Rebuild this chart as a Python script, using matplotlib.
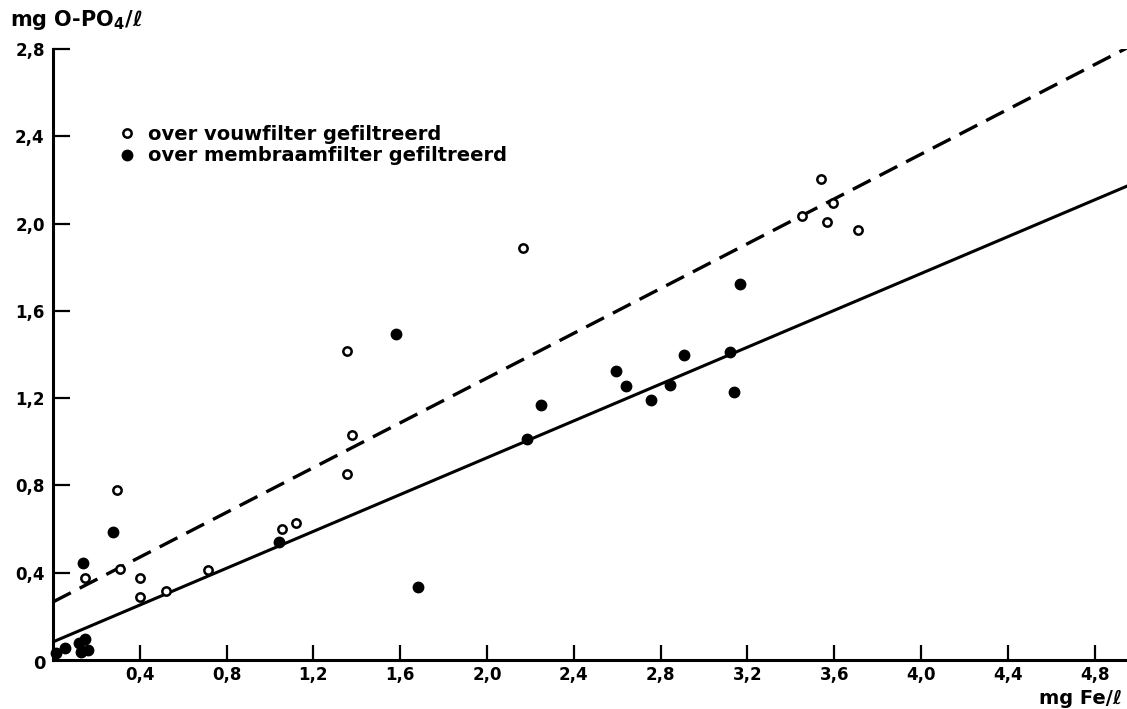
import matplotlib
matplotlib.use("Agg")
import numpy as np
import matplotlib.pyplot as plt

plt.rcParams["font.family"] = ["DejaVu Sans"]
plt.rcParams["font.weight"] = "bold"

# over vouwfilter gefiltreerd (open rondjes)
vouw_fe = [0.147, 0.31, 0.40, 0.40, 0.52, 0.714, 0.295, 1.055, 1.12,
           1.355, 1.38, 1.355, 2.166, 3.45, 3.54, 3.567, 3.595, 3.71]
vouw_po4 = [0.376, 0.417, 0.376, 0.29, 0.316, 0.413, 0.78, 0.60, 0.63,
            1.417, 1.03, 0.853, 1.89, 2.036, 2.206, 2.005, 2.096, 1.97]

# over membraamfilter gefiltreerd (dichte rondjes)
membr_fe = [0.014, 0.055, 0.12, 0.147, 0.129, 0.161, 0.138, 0.277, 1.04,
            1.58, 1.68, 2.184, 2.249, 2.594, 2.64, 2.756, 2.843, 2.91,
            3.12, 3.138, 3.166]
membr_po4 = [0.032, 0.055, 0.078, 0.096, 0.037, 0.046, 0.445, 0.587, 0.54,
             1.495, 0.335, 1.014, 1.17, 1.326, 1.257, 1.19, 1.26, 1.40,
             1.41, 1.23, 1.725]

# regressielijnen: (afsnijding, helling)
lijn_vouw = (0.266, 0.513)
lijn_membr = (0.083, 0.422)

x_ticks = [0.4, 0.8, 1.2, 1.6, 2.0, 2.4, 2.8, 3.2, 3.6, 4.0, 4.4, 4.8]
y_ticks = [0.4, 0.8, 1.2, 1.6, 2.0, 2.4, 2.8]


def komma(v):
    return ("%.1f" % v).replace(".", ",")


fig = plt.figure(figsize=(11.27, 7.09), dpi=100)
ax = fig.add_axes([53 / 1127, 49 / 709, 1074 / 1127, 611 / 709])

xmax = 1074 / 217
xl = np.array([0, xmax])
ax.plot(xl, lijn_vouw[0] + lijn_vouw[1] * xl, color="k", lw=2.4,
        dashes=(6, 3), solid_capstyle="butt")
ax.plot(xl, lijn_membr[0] + lijn_membr[1] * xl, color="k", lw=2.2)

ax.plot(vouw_fe, vouw_po4, "o", ms=6, mfc="white", mec="k", mew=1.8,
        ls="none", label="over vouwfilter gefiltreerd", clip_on=False)
ax.plot(membr_fe, membr_po4, "o", ms=7.5, mfc="k", mec="k",
        ls="none", label="over membraamfilter gefiltreerd", clip_on=False)

ax.set_xlim(0, xmax)
ax.set_ylim(0, 2.8)
for s in ["top", "right"]:
    ax.spines[s].set_visible(False)
for s in ["left", "bottom"]:
    ax.spines[s].set_linewidth(2.2)

ax.set_xticks(x_ticks)
ax.set_xticklabels([komma(v) for v in x_ticks])
ax.set_yticks(y_ticks)
ax.set_yticklabels([komma(v) for v in y_ticks])
ax.tick_params(axis="x", direction="in", length=11, width=1.6, pad=4,
               labelsize=12)
ax.tick_params(axis="y", direction="in", length=12, width=1.6, pad=6,
               labelsize=12)
for t in ax.get_xticklabels() + ax.get_yticklabels():
    t.set_fontweight("bold")

ax.text(-7 / 1074, -4 / 611, "0", transform=ax.transAxes, ha="right",
        va="center", fontsize=13, fontweight="bold")

fig.text(10 / 1127, 1 - 20 / 709, r"mg O-PO$_\mathbf{4}$/ℓ", fontsize=15,
         fontweight="bold", va="center", ha="left")
fig.text(1122 / 1127, 1 - 699 / 709, "mg Fe/ℓ", fontsize=14,
         fontweight="bold", va="center", ha="right")

leg = ax.legend(loc="upper left", bbox_to_anchor=(0.045, 0.905),
                frameon=False, handlelength=0.8, handletextpad=0.7,
                labelspacing=0.15, prop={"size": 14, "weight": "bold"})

fig.savefig("out.png", dpi=100, facecolor="white")
